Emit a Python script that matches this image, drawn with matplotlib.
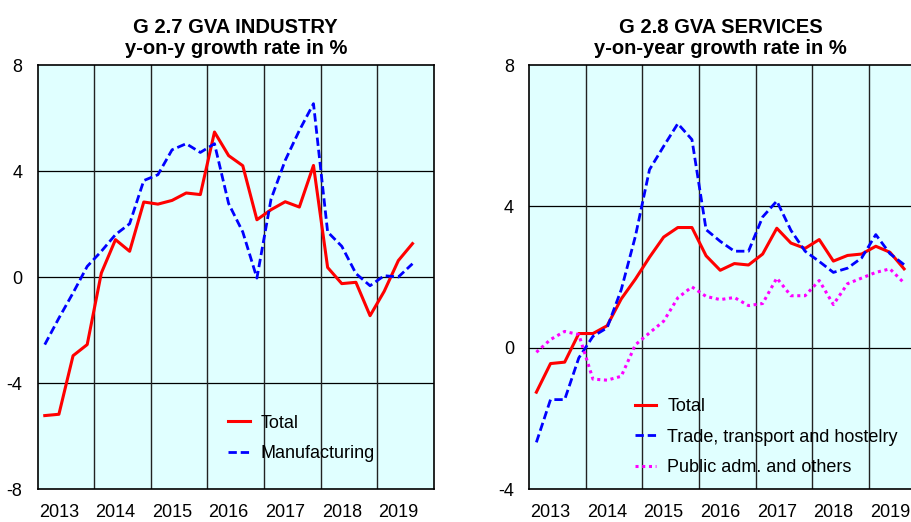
import matplotlib
matplotlib.use("Agg")
import matplotlib.pyplot as plt
import numpy as np

plt.rcParams["font.family"] = ["Liberation Sans", "DejaVu Sans"]

years = ["2013", "2014", "2015", "2016", "2017", "2018", "2019"]

# quarterly data 2013Q1 .. 2019Q3
ind_total = [-5.23, -5.18, -2.97, -2.55, 0.15, 1.41, 0.97, 2.83, 2.75, 2.89, 3.17, 3.11,
             5.47, 4.58, 4.20, 2.16, 2.54, 2.84, 2.64, 4.21, 0.36, -0.25, -0.20, -1.46,
             -0.54, 0.62, 1.26]
ind_manuf = [-2.55, -1.55, -0.60, 0.40, 0.97, 1.60, 2.01, 3.64, 3.86, 4.80, 5.03, 4.70,
             5.03, 2.77, 1.70, -0.04, 2.94, 4.40, 5.53, 6.54, 1.70, 1.16, 0.13, -0.33,
             0.05, 0.00, 0.50]

srv_total = [-1.26, -0.45, -0.41, 0.40, 0.40, 0.62, 1.38, 1.94, 2.56, 3.13, 3.40, 3.40,
             2.60, 2.19, 2.38, 2.34, 2.65, 3.38, 2.96, 2.81, 3.06, 2.45, 2.61, 2.65,
             2.87, 2.70, 2.23]
srv_trade = [-2.68, -1.47, -1.47, -0.29, 0.32, 0.56, 1.64, 3.15, 5.04, 5.70, 6.34, 5.89,
             3.34, 3.01, 2.73, 2.73, 3.70, 4.15, 3.32, 2.73, 2.44, 2.13, 2.25, 2.54,
             3.20, 2.66, 2.35]
srv_public = [-0.13, 0.23, 0.46, 0.37, -0.89, -0.92, -0.81, 0.08, 0.42, 0.75, 1.41, 1.72,
              1.45, 1.36, 1.42, 1.19, 1.25, 1.97, 1.47, 1.47, 1.90, 1.22, 1.81, 1.97,
              2.13, 2.23, 1.83]

x = np.arange(len(ind_total)) * 0.25 + 0.125

fig = plt.figure(figsize=(9.12, 5.22), dpi=100)
W, H = 912, 522
ax1 = fig.add_axes([37.7 / W, 33 / H, 396 / W, 424 / H])
ax2 = fig.add_axes([529.3 / W, 33 / H, 396 / W, 424 / H])


def style(ax, ylim, yticks, title):
    ax.set_facecolor("#E0FFFF")
    ax.set_xlim(0, 7)
    ax.set_ylim(*ylim)
    ax.set_yticks(yticks)
    ax.set_yticklabels([f"{t:g}" for t in yticks])
    ax.set_xticks(np.arange(7) + 0.375)
    ax.set_xticklabels(years)
    ax.tick_params(length=0, labelsize=13)
    ax.tick_params(axis="y", pad=11)
    ax.tick_params(axis="x", pad=11)
    for yv in yticks[1:-1]:
        ax.axhline(yv, color="black", lw=0.9, zorder=1)
    for xv in range(1, 7):
        ax.axvline(xv, color="#222222", lw=1.0, zorder=1)
    for s in ax.spines.values():
        s.set_linewidth(1.2)
    ax.set_title(title, fontsize=14.5, fontweight="bold", pad=8, linespacing=1.15)


style(ax1, (-8, 8), [-8, -4, 0, 4, 8], "G 2.7 GVA INDUSTRY\ny-on-y growth rate in %")
ax1.plot(x, ind_total, color="#FF0000", lw=2.2, label="Total", zorder=3)
ax1.plot(x, ind_manuf, color="#0000FF", lw=2.0, dashes=(3, 1.4), label="Manufacturing", zorder=3)
ax1.legend(loc="lower left", bbox_to_anchor=(0.44, 0.025), frameon=False, fontsize=13,
           handlelength=1.2, handletextpad=0.6, labelspacing=0.75)

style(ax2, (-4, 8), [-4, 0, 4, 8], "G 2.8 GVA SERVICES\ny-on-year growth rate in %")
ax2.title.set_position((0.5 * 382.7 / 396, 1.0))
ax2.plot(x, srv_total, color="#FF0000", lw=2.2, label="Total", zorder=3)
ax2.plot(x, srv_trade, color="#0000FF", lw=2.0, dashes=(3, 1.4),
         label="Trade, transport and hostelry", zorder=3)
ax2.plot(x, srv_public, color="#FF00FF", lw=2.2, dashes=(1, 1.2),
         label="Public adm. and others", zorder=3)
ax2.legend(loc="lower left", bbox_to_anchor=(0.225, -0.008), frameon=False, fontsize=13,
           handlelength=1.2, handletextpad=0.6, labelspacing=0.75)

fig.savefig("out.png", dpi=100)
